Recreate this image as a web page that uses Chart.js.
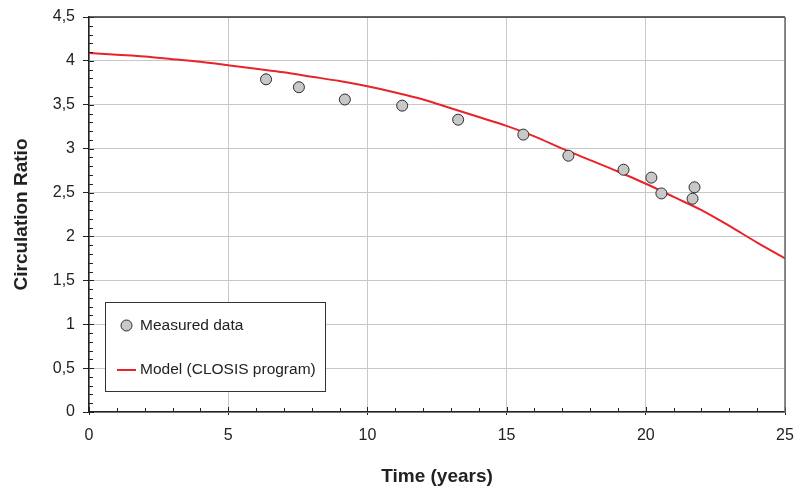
<!DOCTYPE html>
<html>
<head>
<meta charset="utf-8">
<script src="https://cdn.jsdelivr.net/npm/chart.js@4/dist/chart.umd.min.js"></script>
<style>
  body { margin: 0; background: #fff; }
  #chart { display: block; }
</style>
</head>
<body>
<canvas id="chart" width="796" height="486"></canvas>
<script>
// measured circulation ratio
var measuredYears = [6.36, 7.54, 9.19, 11.25, 13.26, 15.6, 17.22, 19.2, 20.2, 20.56, 21.75, 21.68];
var measuredRatio = [3.79, 3.70, 3.56, 3.49, 3.33, 3.16, 2.92, 2.76, 2.67, 2.49, 2.56, 2.43];

// model curve (CLOSIS program)
var modelYears = [0, 1, 2, 3, 4, 5, 6, 7, 8, 9, 10, 11, 12, 13, 14, 15, 16, 17, 18, 19, 20, 21, 22, 23, 24, 25];
var modelRatio = [4.09, 4.07, 4.05, 4.02, 3.99, 3.95, 3.91, 3.87, 3.82, 3.77, 3.71, 3.64, 3.56, 3.46, 3.36, 3.26, 3.14, 3.00, 2.87, 2.74, 2.60, 2.45, 2.30, 2.12, 1.93, 1.75];

var xTicks = [0, 5, 10, 15, 20, 25];
var yTicks = [0, 0.5, 1, 1.5, 2, 2.5, 3, 3.5, 4, 4.5];

var seriesNames = ['Measured data', 'Model (CLOSIS program)'];

var measuredPts = measuredYears.map(function (x, i) { return { x: x, y: measuredRatio[i] }; });
var modelPts = modelYears.map(function (x, i) { return { x: x, y: modelRatio[i] }; });

var FONT = '"Liberation Sans", Arial, sans-serif';

// minor ticks, inner major ticks, top/right frame
var axisExtras = {
  id: 'axisExtras',
  afterDatasetsDraw: function (chart) {
    var ctx = chart.ctx, a = chart.chartArea;
    var xs = chart.scales.x, ys = chart.scales.y;
    ctx.save();
    ctx.strokeStyle = '#222';
    ctx.lineWidth = 1;
    ctx.beginPath();
    for (var i = 0; i <= 25; i++) {
      var px = Math.round(xs.getPixelForValue(i)) + 0.5;
      var len = (i % 5 === 0) ? 5 : 4;
      ctx.moveTo(px, a.bottom);
      ctx.lineTo(px, a.bottom - len);
    }
    for (var j = 0; j <= 45; j++) {
      var py = Math.round(ys.getPixelForValue(j / 10)) + 0.5;
      var l2 = (j % 5 === 0) ? 5 : 4;
      ctx.moveTo(a.left, py);
      ctx.lineTo(a.left + l2, py);
    }
    ctx.stroke();
    ctx.strokeStyle = '#333';
    ctx.lineWidth = 1.5;
    ctx.beginPath();
    ctx.moveTo(a.left, a.top);
    ctx.lineTo(a.right, a.top);
    ctx.stroke();
    ctx.strokeStyle = '#666';
    ctx.beginPath();
    ctx.moveTo(a.right, a.top);
    ctx.lineTo(a.right, a.bottom);
    ctx.stroke();
    ctx.restore();
  }
};

// boxed legend inside the plot
var boxLegend = {
  id: 'boxLegend',
  afterDraw: function (chart) {
    var ctx = chart.ctx, a = chart.chartArea;
    var bx = a.left + 16, by = a.top + 285, bw = 220, bh = 89;
    ctx.save();
    ctx.fillStyle = '#fff';
    ctx.fillRect(bx, by, bw, bh);
    ctx.strokeStyle = '#333';
    ctx.lineWidth = 1;
    ctx.strokeRect(bx + 0.5, by + 0.5, bw, bh);

    var ds0 = chart.data.datasets[0], ds1 = chart.data.datasets[1];
    ctx.beginPath();
    ctx.arc(bx + 21.5, by + 23.5, 5.5, 0, Math.PI * 2);
    ctx.fillStyle = ds0.backgroundColor;
    ctx.fill();
    ctx.strokeStyle = ds0.borderColor;
    ctx.stroke();

    ctx.strokeStyle = ds1.borderColor;
    ctx.lineWidth = 2;
    ctx.beginPath();
    ctx.moveTo(bx + 12, by + 68);
    ctx.lineTo(bx + 31, by + 68);
    ctx.stroke();

    ctx.fillStyle = '#222';
    ctx.font = '15.5px ' + FONT;
    ctx.textBaseline = 'middle';
    ctx.fillText(ds0.label, bx + 35, by + 23.5);
    ctx.fillText(ds1.label, bx + 35, by + 68);
    ctx.restore();
  }
};

var chart = new Chart(document.getElementById('chart').getContext('2d'), {
  type: 'scatter',
  data: {
    datasets: [{
      label: seriesNames[0],
      data: measuredPts,
      showLine: false,
      pointRadius: 5.5,
      pointBorderWidth: 1,
      backgroundColor: '#c8c8c8',
      borderColor: '#2a2a2a',
      order: 0
    }, {
      label: seriesNames[1],
      data: modelPts,
      showLine: true,
      pointRadius: 0,
      borderColor: '#e8232a',
      borderWidth: 2,
      cubicInterpolationMode: 'monotone',
      order: 1
    }]
  },
  options: {
    responsive: false,
    animation: false,
    layout: { padding: { top: 17, right: 11, left: 0, bottom: 0 } },
    plugins: {
      legend: { display: false },
      tooltip: { enabled: false }
    },
    scales: {
      x: {
        type: 'linear',
        min: 0, max: 25,
        afterBuildTicks: function (s) { s.ticks = xTicks.map(function (v) { return { value: v }; }); },
        afterFit: function (s) { s.height = 74; s.paddingLeft = 0; s.paddingRight = 0; },
        grid: { color: '#c8c8c8', tickColor: '#222', tickLength: 3 },
        border: { color: '#222', width: 1.5 },
        ticks: {
          color: '#222', padding: 11,
          font: { family: FONT, size: 16 },
          maxRotation: 0
        },
        title: {
          display: true, text: 'Time (years)', color: '#222',
          font: { family: FONT, size: 19, weight: 'bold', lineHeight: 1 },
          padding: { top: 0, bottom: 0 }
        }
      },
      y: {
        type: 'linear',
        min: 0, max: 4.5,
        afterBuildTicks: function (s) { s.ticks = yTicks.map(function (v) { return { value: v }; }); },
        afterFit: function (s) { s.width = 89; s.paddingTop = 0; s.paddingBottom = 0; },
        grid: { color: '#c8c8c8', tickColor: '#222', tickLength: 6 },
        border: { color: '#222', width: 1.5 },
        ticks: {
          color: '#222', padding: 8,
          font: { family: FONT, size: 16 },
          callback: function (v) { return String(v).replace('.', ','); }
        },
        title: {
          display: true, text: 'Circulation Ratio', color: '#222',
          font: { family: FONT, size: 19, weight: 'bold' },
          padding: { top: 10, bottom: 0 }
        }
      }
    }
  },
  plugins: [axisExtras, boxLegend]
});
</script>
</body>
</html>
